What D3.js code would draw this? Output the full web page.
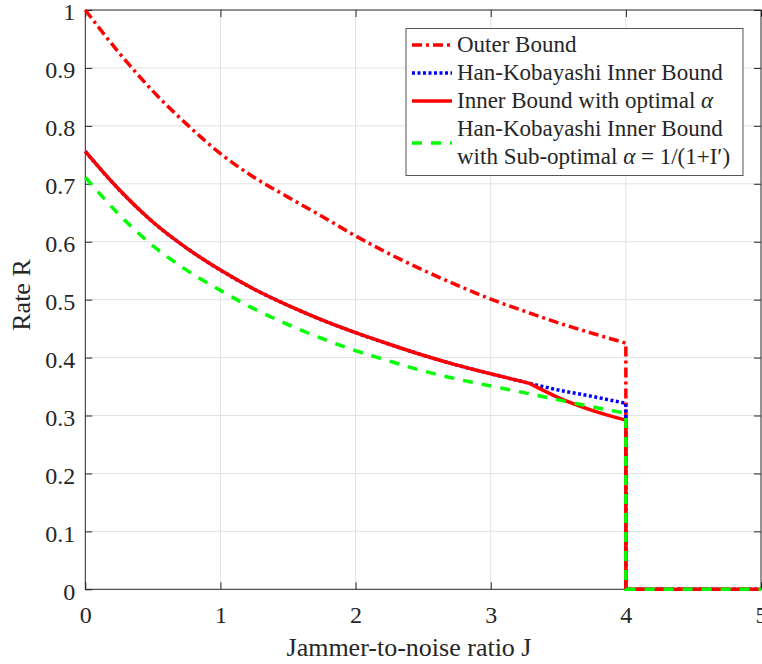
<!DOCTYPE html>
<html><head><meta charset="utf-8">
<script src="https://cdn.jsdelivr.net/npm/d3@7"></script>
<style>
body{margin:0;background:#fff}
text{font-family:"Liberation Serif","Times New Roman",serif;fill:#262626}
</style></head>
<body><svg id="c" width="762" height="664"></svg>
<script>
// ---- data ----
const J          = [0,0.25,0.5,0.75,1,1.25,1.5,1.75,2,2.25,2.5,2.75,3,3.287,3.5,3.75,4];
const outerBound = [1.000,0.926,0.860,0.803,0.752,0.711,0.677,0.644,0.610,0.579,0.551,0.525,0.501,0.477,0.460,0.442,0.425];
const hkInner    = [0.756,0.690,0.634,0.589,0.551,0.518,0.490,0.465,0.443,0.423,0.404,0.387,0.372,0.3555,0.344,0.333,0.321];
const innerOpt   = [0.756,0.690,0.634,0.589,0.551,0.518,0.490,0.465,0.443,0.423,0.404,0.387,0.372,0.3555,0.331,0.309,0.292];
const subOpt     = [0.711,0.647,0.593,0.551,0.516,0.484,0.457,0.433,0.412,0.394,0.377,0.363,0.351,0.3375,0.327,0.315,0.304];
const tailJ      = [4, 5];      // drop to zero at J = 4, then zero up to J = 5
const tailR      = [0, 0];
const kinkIndex  = 13;          // J = 3.287, where the curves split
const xTicks     = [0,1,2,3,4,5];
const yTicks     = [0,0.1,0.2,0.3,0.4,0.5,0.6,0.7,0.8,0.9,1];
const yTickLabels= ["0","0.1","0.2","0.3","0.4","0.5","0.6","0.7","0.8","0.9","1"];
const xLabel = "Jammer-to-noise ratio J";
const yLabel = "Rate R";

const svg = d3.select("#c");
const x = d3.scaleLinear().domain([0,5]).range([85.3,761]);
const y = d3.scaleLinear().domain([0,1]).range([589.3,10]);
const axisColor = "#262626";
const serif = '"Liberation Serif","Times New Roman",serif';

// grid
const grid = svg.append("g").attr("stroke","#e2e2e2").attr("stroke-width",1);
xTicks.slice(1,-1).forEach(t=>grid.append("line").attr("x1",x(t)).attr("x2",x(t)).attr("y1",y(0)).attr("y2",y(1)));
yTicks.slice(1,-1).forEach(t=>grid.append("line").attr("x1",x(0)).attr("x2",x(5)).attr("y1",y(t)).attr("y2",y(t)));

// axes
function styleAxis(g){
  g.attr("font-family",serif);
  g.select(".domain").remove();
  g.selectAll(".tick line").attr("stroke",axisColor);
  g.selectAll("text").attr("fill",axisColor).style("font-size","24px").style("font-family",serif);
}
svg.append("g").attr("transform",`translate(0,${y(0)})`)
  .call(d3.axisBottom(x).tickValues(xTicks).tickSize(-7).tickPadding(17).tickFormat(d3.format("d")))
  .call(styleAxis);
svg.append("g").attr("transform",`translate(0,${y(1)})`)
  .call(d3.axisTop(x).tickValues(xTicks).tickSize(-7).tickFormat(""))
  .call(styleAxis);
const yl = svg.append("g").attr("transform",`translate(${x(0)},0)`)
  .call(d3.axisLeft(y).tickValues(yTicks).tickSize(-7).tickPadding(10).tickFormat((d,i)=>yTickLabels[i]))
  .call(styleAxis);
yl.selectAll("text").attr("dy","0.41em");
svg.append("g").attr("transform",`translate(${x(5)},0)`)
  .call(d3.axisRight(y).tickValues(yTicks).tickSize(-7).tickFormat(""))
  .call(styleAxis);
svg.append("rect").attr("x",x(0)).attr("y",y(1)).attr("width",x(5)-x(0)).attr("height",y(0)-y(1))
  .attr("fill","none").attr("stroke",axisColor).attr("stroke-width",1);

// labels
svg.append("text").attr("x",409).attr("y",656).attr("text-anchor","middle").style("font-size","26px").text(xLabel);
svg.append("text").attr("transform","translate(30,295) rotate(-90)").attr("text-anchor","middle").style("font-size","26px").text(yLabel);

// series paths
const smooth = d3.line().x(d=>x(d[0])).y(d=>y(d[1])).curve(d3.curveMonotoneX);
const straight = d3.line().x(d=>x(d[0])).y(d=>y(d[1]));
function seriesPath(vals, kink){
  const pts = J.map((j,i)=>[j,vals[i]]);
  let p;
  if(kink){
    p = smooth(pts.slice(0,kinkIndex+1)) + smooth(pts.slice(kinkIndex)).replace(/^M/,"L");
  } else p = smooth(pts);
  const tail = [[J[J.length-1],vals[vals.length-1]]].concat(tailJ.map((j,i)=>[j,tailR[i]]));
  return p + straight(tail).replace(/^M/,"L");
}
const series = [
  {vals:outerBound, kink:false, color:"#ff0000", dash:"10,4,3,4"},
  {vals:hkInner, kink:true, color:"#0000ff", dash:"3,2.5"},
  {vals:innerOpt, kink:true, color:"#ff0000", dash:null},
  {vals:subOpt, kink:false, color:"#00ff00", dash:"10,9"}
];
series.forEach(s=>{
  svg.append("path").attr("d",seriesPath(s.vals,s.kink)).attr("fill","none")
    .attr("stroke",s.color).attr("stroke-width",3.5).attr("stroke-dasharray",s.dash);
});

// legend
const lg = svg.append("g");
lg.append("rect").attr("x",406).attr("y",28.5).attr("width",337).attr("height",147)
  .attr("fill","#fff").attr("stroke","#555").attr("stroke-width",1);
const rows = [
  {s:0, ly:45, lines:[{y:52, parts:[["Outer Bound",false]]}]},
  {s:1, ly:73, lines:[{y:80, parts:[["Han-Kobayashi Inner Bound",false]]}]},
  {s:2, ly:101, lines:[{y:108, parts:[["Inner Bound with optimal ",false],["α",true]]}]},
  {s:3, ly:143, lines:[{y:136, parts:[["Han-Kobayashi Inner Bound",false]]},
                        {y:164, parts:[["with Sub-optimal ",false],["α",true],[" = 1/(1+I′)",false]]}]}
];
rows.forEach(r=>{
  const s = series[r.s];
  lg.append("line").attr("x1",412).attr("x2",452).attr("y1",r.ly).attr("y2",r.ly)
    .attr("stroke",s.color).attr("stroke-width",3.5).attr("stroke-dasharray",s.dash);
  r.lines.forEach(l=>{
    const t = lg.append("text").attr("x",457).attr("y",l.y).style("font-size","23px");
    l.parts.forEach(p=>t.append("tspan").style("font-style",p[1]?"italic":"normal").text(p[0]));
  });
});
</script>
</body></html>
